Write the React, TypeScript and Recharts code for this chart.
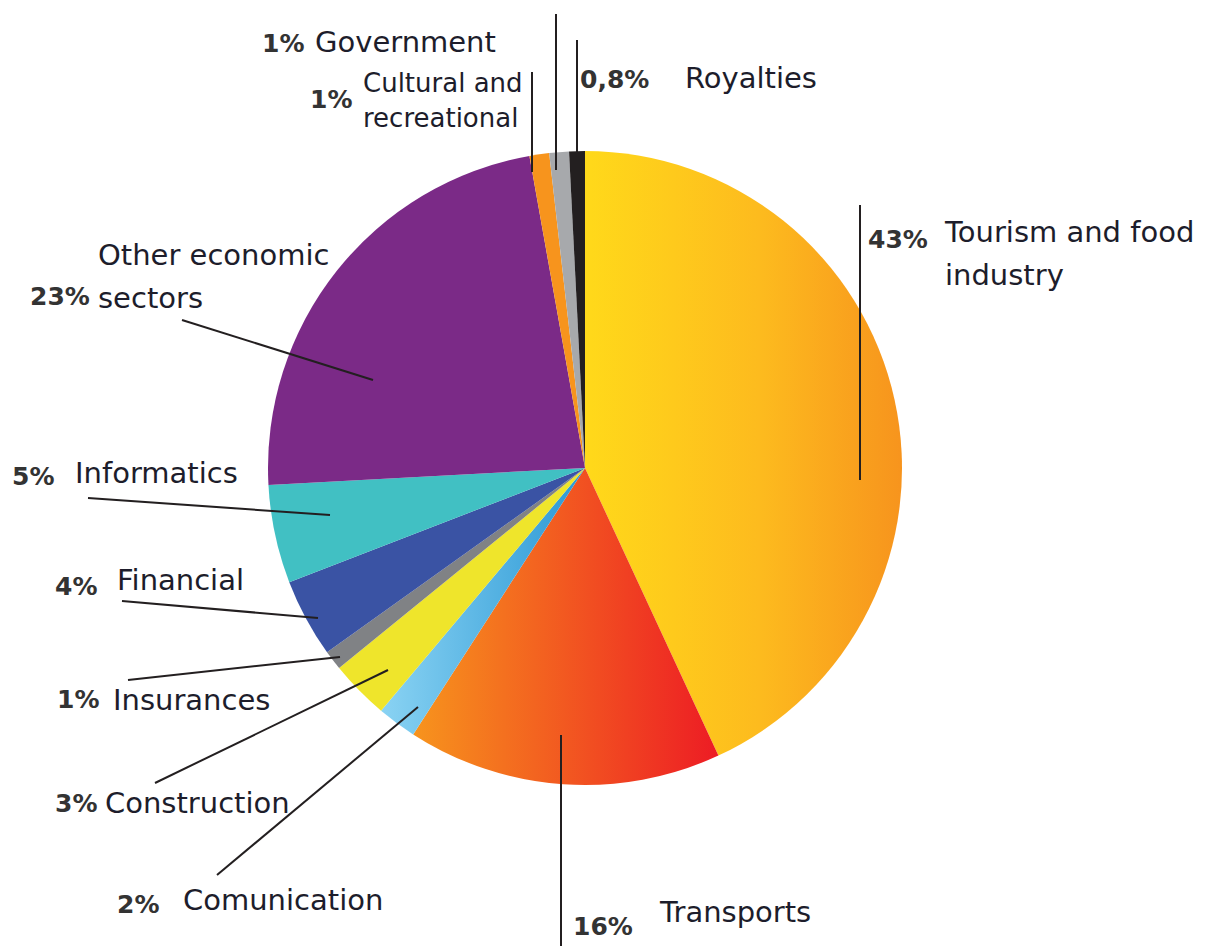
import { PieChart, Pie, Cell } from 'recharts';

// sectors, clockwise from 12 o'clock
const sectors = [
  'Tourism and food industry',
  'Transports',
  'Comunication',
  'Construction',
  'Insurances',
  'Financial',
  'Informatics',
  'Other economic sectors',
  'Cultural and recreational',
  'Government',
  'Royalties',
];
const shares = [43, 16, 2, 3, 1, 4, 5, 23, 1, 1, 0.8];
const shareLabels = ['43%', '16%', '2%', '3%', '1%', '4%', '5%', '23%', '1%', '1%', '0,8%'];

const fills = [
  'url(#gTourism)',
  'url(#gTransports)',
  'url(#gComm)',
  '#EFE52B',
  '#808285',
  '#3A53A4',
  '#41C0C3',
  '#7B2A87',
  '#F7941D',
  '#A7A9AC',
  '#231F20',
];

// label layout, offsets from the pie centre
type LabelLayout = {
  line: [number, number, number, number];
  pct: [number, number];
  text: [number, number];
  lines: string[];
  size?: number;
  lineGap?: number;
};

const labelLayout: LabelLayout[] = [
  { line: [275, -263, 275, 12], pct: [283, -220], text: [360, -226], lines: ['Tourism and food', 'industry'] },
  { line: [-24, 267, -24, 478], pct: [-12, 467], text: [75, 454], lines: ['Transports'] },
  { line: [-368, 407, -167, 239], pct: [-468, 445], text: [-402, 442], lines: ['Comunication'] },
  { line: [-430, 315, -197, 202], pct: [-530, 344], text: [-480, 345], lines: ['Construction'] },
  { line: [-457, 212, -245, 189], pct: [-528, 240], text: [-472, 242], lines: ['Insurances'] },
  { line: [-463, 133, -267, 150], pct: [-530, 127], text: [-468, 122], lines: ['Financial'] },
  { line: [-497, 30, -255, 47], pct: [-573, 17], text: [-510, 15], lines: ['Informatics'] },
  { line: [-403, -148, -212, -88], pct: [-555, -163], text: [-487, -203], lines: ['Other economic', 'sectors'] },
  { line: [-53, -396, -53, -296], pct: [-275, -360], text: [-222, -376], lines: ['Cultural and', 'recreational'], size: 26, lineGap: 35 },
  { line: [-29, -454, -29, -298], pct: [-323, -416], text: [-270, -416], lines: ['Government'] },
  { line: [-8, -428, -8, -303], pct: [-5, -380], text: [100, -380], lines: ['Royalties'] },
];

const FONT = '"DejaVu Sans", "Noto Sans", sans-serif';

const renderLabel = (props: any) => {
  const { cx, cy, index } = props;
  const l = labelLayout[index];
  if (!l) return null;
  const size = l.size ?? 29;
  const gap = l.lineGap ?? 43;
  return (
    <g key={`lbl-${index}`}>
      <line
        x1={cx + l.line[0]}
        y1={cy + l.line[1]}
        x2={cx + l.line[2]}
        y2={cy + l.line[3]}
        stroke="#231F20"
        strokeWidth={2}
      />
      <text
        x={cx + l.pct[0]}
        y={cy + l.pct[1]}
        fontFamily={FONT}
        fontWeight={700}
        fontSize={25}
        fill="#333"
      >
        {shareLabels[index]}
      </text>
      <text x={cx + l.text[0]} y={cy + l.text[1]} fontFamily={FONT} fontSize={size} fill="#1d1d2b">
        {l.lines.map((s, i) => (
          <tspan key={i} x={cx + l.text[0]} y={cy + l.text[1] + i * gap}>
            {s}
          </tspan>
        ))}
      </text>
    </g>
  );
};

const data = sectors.map((name, i) => ({ name, value: shares[i] }));

export default function App() {
  return (
    <div style={{ width: 1213, height: 946, background: '#fff' }}>
      <style>{`body{margin:0}`}</style>
      <PieChart width={1213} height={946} margin={{ top: 0, right: 0, bottom: 0, left: 0 }}>
        <defs>
          <linearGradient id="gTourism" x1="0" y1="0" x2="1" y2="0">
            <stop offset="0%" stopColor="#FFD91A" />
            <stop offset="55%" stopColor="#FDBB1E" />
            <stop offset="100%" stopColor="#F7941D" />
          </linearGradient>
          <linearGradient id="gTransports" x1="0" y1="0" x2="1" y2="0">
            <stop offset="0%" stopColor="#F7941D" />
            <stop offset="100%" stopColor="#ED1C24" />
          </linearGradient>
          <linearGradient id="gComm" x1="0" y1="0" x2="1" y2="0">
            <stop offset="0%" stopColor="#8AD3F3" />
            <stop offset="100%" stopColor="#2B98D5" />
          </linearGradient>
        </defs>
        <Pie
          data={data}
          dataKey="value"
          nameKey="name"
          cx={585}
          cy={468}
          outerRadius={317}
          startAngle={90}
          endAngle={-270}
          stroke="none"
          label={renderLabel}
          labelLine={false}
          isAnimationActive={false}
        >
          {data.map((d, i) => (
            <Cell key={d.name} fill={fills[i]} stroke="none" />
          ))}
        </Pie>
      </PieChart>
    </div>
  );
}
